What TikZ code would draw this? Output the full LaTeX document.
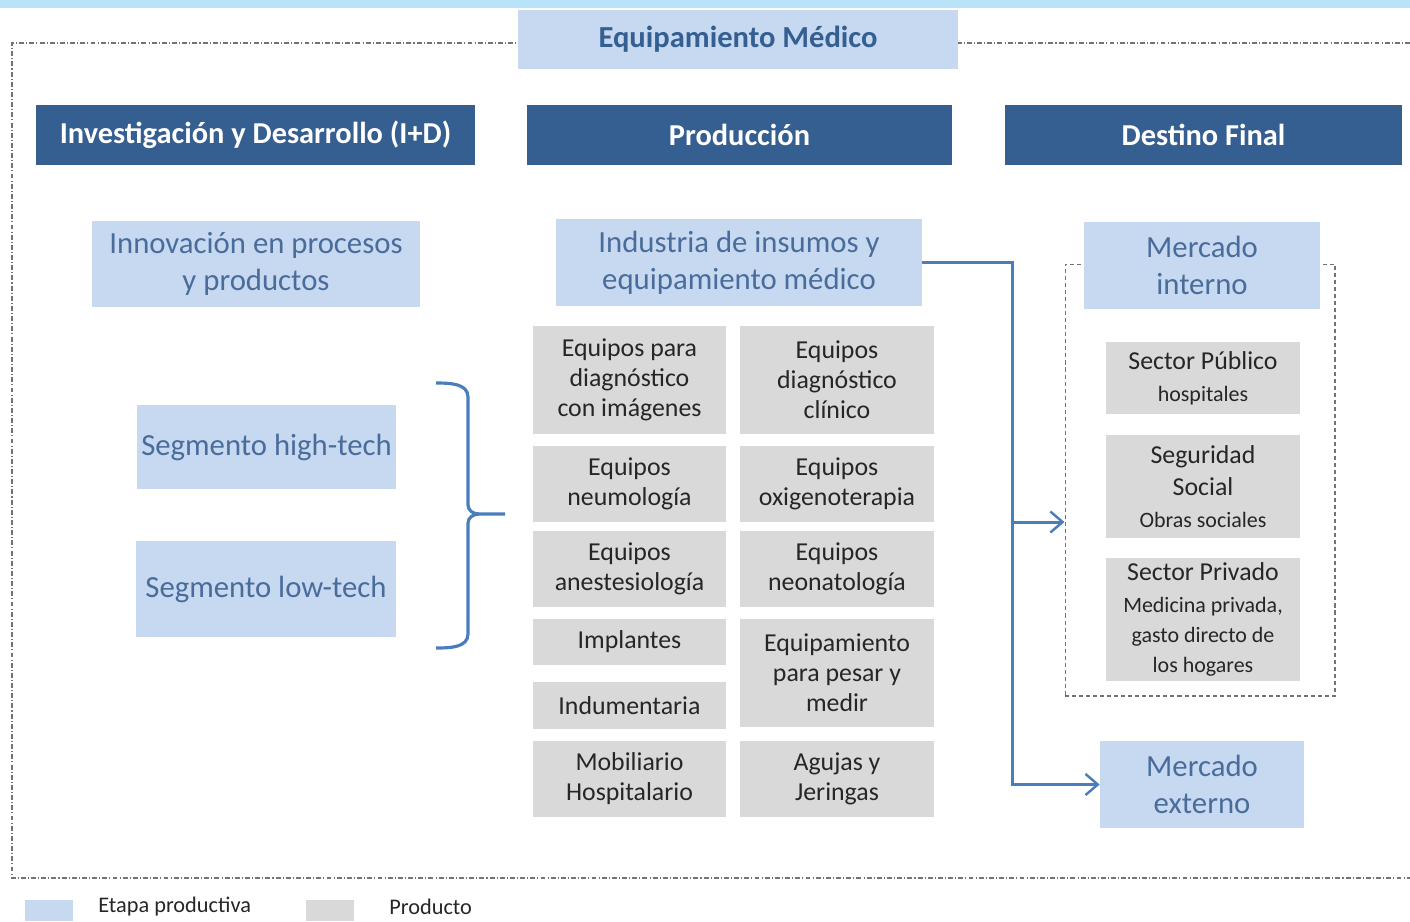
\documentclass[tikz,border=0pt]{standalone}
\usepackage{fontspec}
\setmainfont{Carlito}
\usetikzlibrary{arrows.meta}

\definecolor{celeste}{HTML}{C6D9F1}
\definecolor{azultxt}{HTML}{4A6C9B}
\definecolor{azulosc}{HTML}{355E91}
\definecolor{gris}{HTML}{D9D9D9}
\definecolor{flechaazul}{HTML}{4A7EBB}
\definecolor{franja}{HTML}{B9E3F9}

\newcommand{\chica}{\fontsize{12.5}{14.8}\selectfont}

\tikzset{
  etapa/.style={fill=celeste, text=azultxt, align=center, inner sep=0pt,
    font=\fontsize{17.5}{21}\selectfont},
  cabecera/.style={fill=azulosc, text=white, align=center, inner sep=0pt,
    minimum height=1.2cm, font=\bfseries\fontsize{17.3}{20}\selectfont},
  producto/.style={fill=gris, text=black!85, align=center, inner sep=0pt,
    font=\fontsize{14.7}{17}\selectfont},
  flecha/.style={draw=flechaazul, line width=1.7pt, -{Straight Barb[length=7pt,width=12pt,line width=1.4pt]}},
  borde/.style={draw=black!55, line width=0.6pt, dash pattern=on 2.8pt off 1.2pt on 0.6pt off 1.2pt},
}

\begin{document}
\begin{tikzpicture}[x=0.02cm, y=-0.02cm]
\useasboundingbox (0,0) rectangle (1410,921);
\fill[franja] (0,0) rectangle (1410,8);

% marco general
\draw[borde] (1410,43) -- (12,43) -- (12,878) -- (1410,878);
\node[etapa, minimum width=8.8cm, minimum height=1.18cm, text=azulosc,
  font=\bfseries\fontsize{17.4}{20}\selectfont] (titulo) at (738,39.5) {Equipamiento Médico};

% cabeceras
\node[cabecera, minimum width=8.78cm] (hid) at (255.5,135) {Investigación y Desarrollo (I+D)};
\node[cabecera, minimum width=8.5cm] (hprod) at (739.5,135) {Producción};
\node[cabecera, minimum width=7.94cm] (hdest) at (1203.5,135) {Destino Final};

% I+D
\node[etapa, minimum width=6.56cm, minimum height=1.72cm] (innov) at (256,264) {Innovación en procesos\\y productos};
\node[etapa, minimum width=5.18cm, minimum height=1.68cm] (high) at (266.5,447) {Segmento high-tech};
\node[etapa, minimum width=5.2cm, minimum height=1.92cm] (low) at (266,589) {Segmento low-tech};

\draw[flechaazul, line width=1.8pt] (436,383) to[out=0,in=90] (468,397) -- (468,505)
  to[out=-90,in=180] (479,514) -- (505,514);
\draw[flechaazul, line width=1.8pt] (479,514) to[out=180,in=90] (468,523) -- (468,634)
  to[out=-90,in=0] (436,648);

% produccion
\node[etapa, minimum width=7.32cm, minimum height=1.74cm] (ind) at (739,262.5) {Industria de insumos y\\equipamiento médico};
\node[producto, minimum width=3.86cm, minimum height=2.16cm] (imag) at (629.5,380) {Equipos para\\diagnóstico\\con imágenes};
\node[producto, minimum width=3.88cm, minimum height=2.16cm] (clin) at (837,380) {Equipos\\diagnóstico\\clínico};
\node[producto, minimum width=3.86cm, minimum height=1.52cm] (neum) at (629.5,484) {Equipos\\neumología};
\node[producto, minimum width=3.88cm, minimum height=1.52cm] (oxig) at (837,484) {Equipos\\oxigenoterapia};
\node[producto, minimum width=3.86cm, minimum height=1.52cm] (anes) at (629.5,569) {Equipos\\anestesiología};
\node[producto, minimum width=3.88cm, minimum height=1.52cm] (neon) at (837,569) {Equipos\\neonatología};
\node[producto, minimum width=3.86cm, minimum height=0.92cm] (impl) at (629.5,642) {Implantes};
\node[producto, minimum width=3.86cm, minimum height=0.94cm] (indu) at (629.5,705.5) {Indumentaria};
\node[producto, minimum width=3.88cm, minimum height=2.16cm] (pesar) at (837,673) {Equipamiento\\para pesar y\\medir};
\node[producto, minimum width=3.86cm, minimum height=1.52cm] (mobi) at (629.5,779) {Mobiliario\\Hospitalario};
\node[producto, minimum width=3.88cm, minimum height=1.52cm] (aguj) at (837,779) {Agujas y\\Jeringas};

% destino final
\node[draw=black!55, line width=0.6pt, dash pattern=on 2.3pt off 1.7pt,
  minimum width=5.4cm, minimum height=8.64cm, inner sep=0pt] (intbox) at (1200,480) {};
\node[etapa, minimum width=4.72cm, minimum height=1.74cm] (mint) at (1202,265.5) {Mercado\\interno};
\node[producto, minimum width=3.88cm, minimum height=1.44cm] (pub) at (1203,378)
  {Sector Público\\[1pt]\chica hospitales};
\node[producto, minimum width=3.88cm, minimum height=2.06cm] (segs) at (1203,486.5)
  {Seguridad\\[1pt]Social\\[1pt]\chica Obras sociales};
\node[producto, minimum width=3.88cm, minimum height=2.46cm] (priv) at (1203,619.5)
  {Sector Privado\\[1pt]\chica Medicina privada,\\\chica gasto directo de\\\chica los hogares};
\node[etapa, minimum width=4.08cm, minimum height=1.74cm] (ext) at (1202,784.5) {Mercado\\externo};

\coordinate (nudo) at (1012,522);
\draw[flecha] (ind.east) -| (nudo) |- (ext.west);
\draw[flecha] (nudo) -- (intbox.west |- nudo);

% leyenda
\node[fill=celeste, minimum width=0.96cm, minimum height=0.42cm, inner sep=0pt] (leg1) at (49,910.5) {};
\node[anchor=west, inner sep=0pt, font=\fontsize{12.7}{14}\selectfont, text=black!85] (leg1t) at (98,907) {Etapa productiva};
\node[fill=gris, minimum width=0.96cm, minimum height=0.42cm, inner sep=0pt] (leg2) at (330,910.5) {};
\node[anchor=west, inner sep=0pt, font=\fontsize{12.7}{14}\selectfont, text=black!85] (leg2t) at (389,907) {Producto};
\end{tikzpicture}
\end{document}
